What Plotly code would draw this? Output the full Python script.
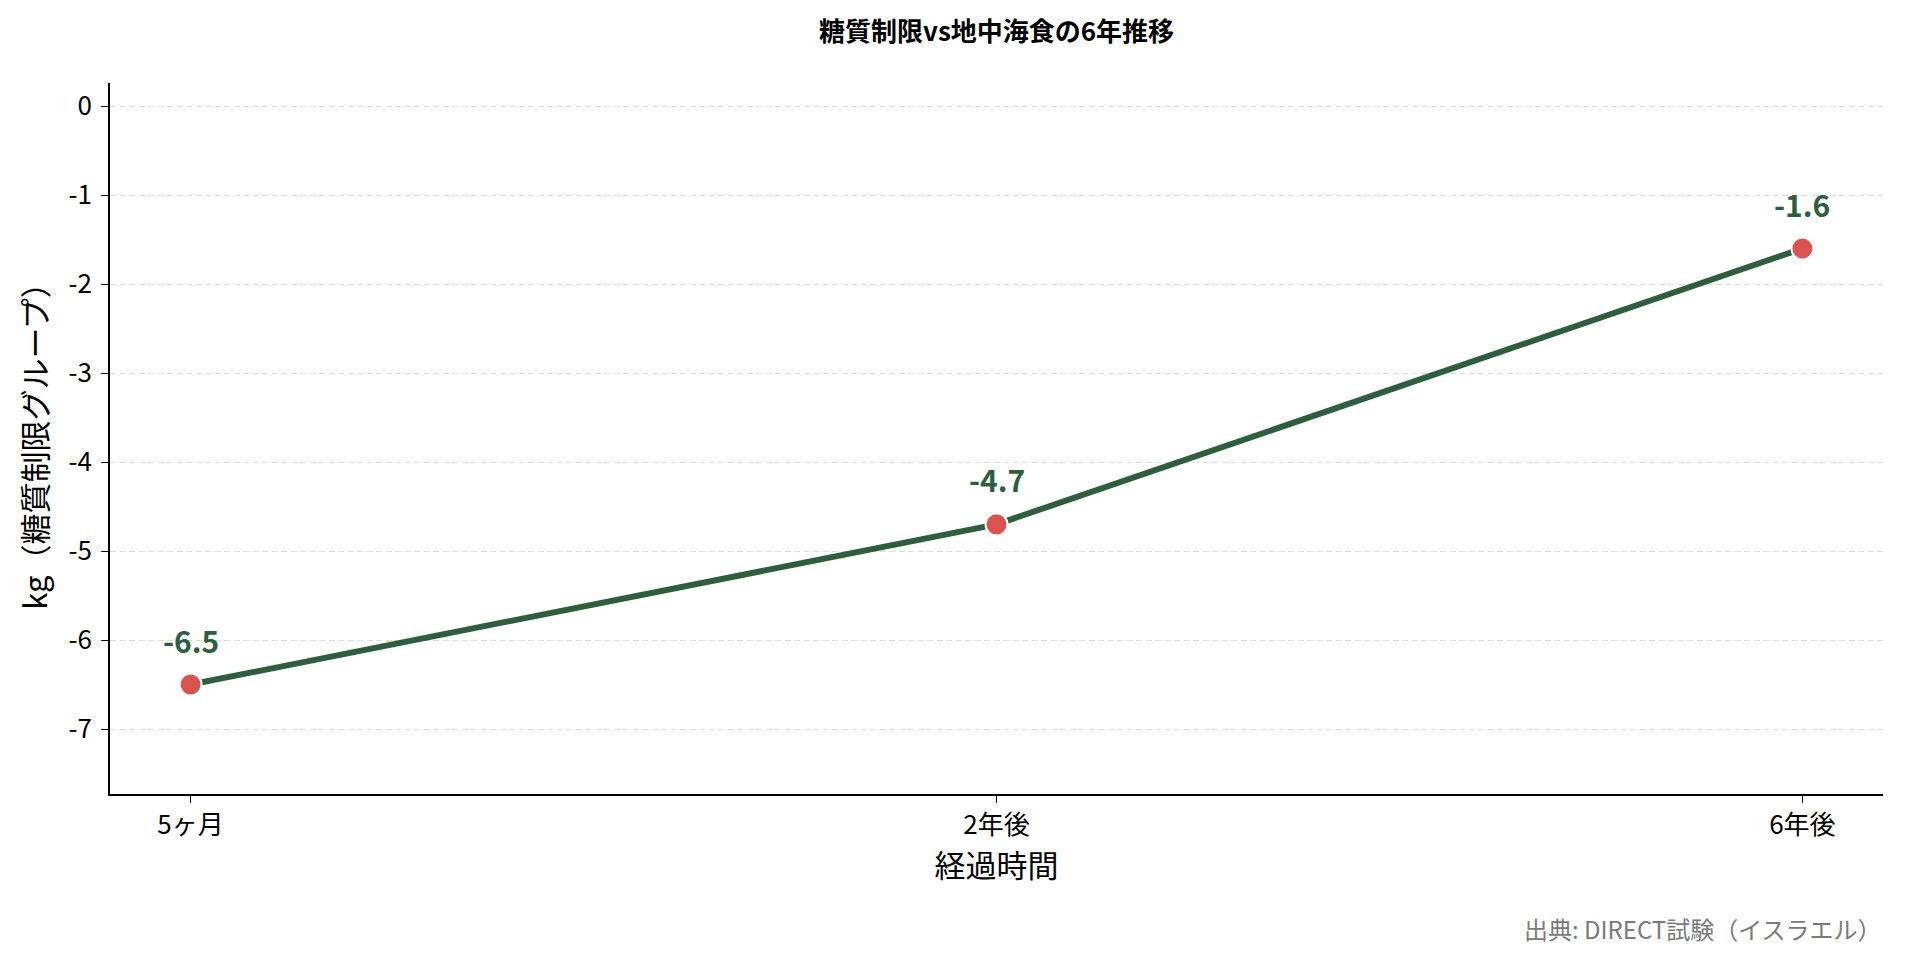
import plotly.graph_objects as go

# データ
periods = ["5ヶ月", "2年後", "6年後"]
weight_change = [-6.5, -4.7, -1.6]
y_ticks = [0, -1, -2, -3, -4, -5, -6, -7]
y_tick_labels = ["0", "-1", "-2", "-3", "-4", "-5", "-6", "-7"]

FONT = "Noto Sans CJK JP"
GREEN = "#2e5e3e"
RED = "#d9534f"

fig = go.Figure()
fig.add_trace(go.Scatter(
    x=periods,
    y=weight_change,
    mode="lines+markers",
    line=dict(color=GREEN, width=6),
    marker=dict(color=RED, size=22, line=dict(color="white", width=2)),
    hoverinfo="skip",
    showlegend=False,
))

# 値ラベル
for p, v in zip(periods, weight_change):
    fig.add_annotation(
        x=p, y=v, text="<b>%.1f</b>" % v, showarrow=False,
        yshift=45, font=dict(family=FONT, size=30, color=GREEN),
    )

fig.add_annotation(
    text="出典: DIRECT試験（イスラエル）", xref="paper", yref="paper",
    x=1.0, y=-0.189, xanchor="right", yanchor="middle", showarrow=False,
    font=dict(family=FONT, size=24, color="#7a7a7a"),
)

fig.update_layout(
    width=1910, height=959,
    paper_bgcolor="white", plot_bgcolor="white",
    margin=dict(l=102, r=35, t=75, b=173),
    font=dict(family=FONT, color="black"),
    title=dict(text="<b>糖質制限vs地中海食の6年推移</b>", x=0.5, xref="paper",
               y=0.975, yanchor="middle", font=dict(family=FONT, size=26)),
    xaxis=dict(
        range=[-0.1, 2.1], showgrid=False, showline=True, linecolor="black", linewidth=1.5,
        ticks="outside", ticklen=7, tickcolor="black", tickfont=dict(size=26),
        title=dict(text="経過時間", font=dict(size=31), standoff=8),
        zeroline=False,
    ),
    yaxis=dict(
        range=[-7.73, 0.26], tickvals=y_ticks, ticktext=y_tick_labels,
        showgrid=True, gridcolor="#dcdcdc", griddash="6px,3.5px", gridwidth=1.4,
        showline=True, linecolor="black", linewidth=1.5,
        ticks="outside", ticklen=7, tickcolor="black", tickfont=dict(size=26),
        ticklabelstandoff=4,
        title=dict(text="kg（糖質制限グループ）", font=dict(size=31), standoff=12),
        zeroline=False,
    ),
)

fig.write_html("out.html")
